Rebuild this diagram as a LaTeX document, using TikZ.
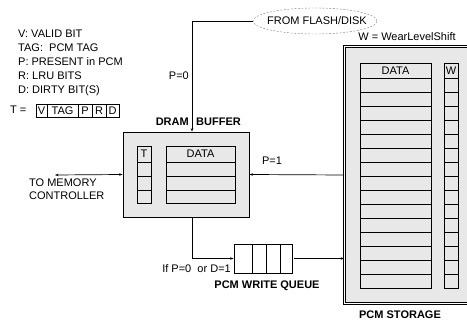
\documentclass[tikz,border=0pt]{standalone}
\usepackage{fontspec}
\setmainfont{Liberation Sans}
\usetikzlibrary{arrows.meta,shapes.geometric}
\tikzset{
  lbl/.style={font=\fontsize{11}{13}\selectfont, inner sep=0pt},
  bold lbl/.style={font=\fontsize{11}{13}\selectfont\bfseries, inner sep=0pt},
  blk/.style={draw, line width=0.8pt, fill=gray!18, inner sep=0pt},
  tip/.style={-{Stealth[length=3.5pt,width=2.5pt]}, line width=0.7pt},
}
\begin{document}
\begin{tikzpicture}[x=1pt,y=-1pt]
            \useasboundingbox (0,0) rectangle (467,323);
            \clip (0,0) rectangle (467,323);
            % legend
            \foreach \t [count=\i] in {V: VALID BIT, TAG:\ \ PCM TAG, P: PRESENT in PCM, R: LRU BITS, D: DIRTY BIT(S)}
              \node[lbl, anchor=base west] (leg\i) at (18,24+14*\i) {\t};
            \node[lbl, anchor=base west] (teq) at (10,114) {T =};
            \foreach \a/\b/\t in {36/47/V, 47/78/TAG, 78/92/P, 92/106/R, 106/119/D}
              {\draw[line width=0.8pt] (\a,104) rectangle (\b,117);
               \node[lbl] at ({(\a+\b)/2},110.5) {\t};}
            % main blocks
            \node[blk, minimum width=126pt, minimum height=85pt] (dram) at (186,174.5) {};
            \node[blk, minimum width=58pt, minimum height=29pt, fill=white] (queue) at (263,258.5) {};
            \node[blk, minimum width=130pt, minimum height=257pt, line width=0.7pt,
                  double, double distance=1.6pt] (pcm) at (409.5,175) {};
            \node[ellipse, draw=gray, dashed, dash pattern=on 2pt off 1.5pt,
                  minimum width=124pt, minimum height=26pt, inner sep=0pt] (flash) at (315,21) {};
            \node[lbl] (flashtxt) at (317,21) {FROM FLASH/DISK};
            % dram tables
            \draw[line width=0.8pt] (137,146) rectangle (151,203);
            \draw[line width=0.8pt] (166,146) rectangle (235,203);
            \foreach \y in {162,176,190}
              \draw[line width=0.8pt] (137,\y) -- (151,\y) (166,\y) -- (235,\y);
            \node[lbl] at (144,154) {T};
            \node[lbl] at (200.5,154) {DATA};
            % queue slots
            \foreach \x in {252,266,280}
              \draw[line width=0.8pt] (\x,244) -- (\x,273);
            % pcm tables
            \draw[line width=0.8pt] (360,63) rectangle (431,288);
            \draw[line width=0.8pt] (444,63) rectangle (458,288);
            \foreach \y in {78,92,...,274}
              \draw[line width=0.8pt] (360,\y) -- (431,\y) (444,\y) -- (458,\y);
            \node[lbl] at (395.5,71) {DATA};
            \node[lbl] at (451,71) {W};
            % connectors
            \coordinate (drop) at (192,21);
            \coordinate (mc) at (55,175);
            \draw[tip] (flash.west) -- (drop) -- (drop |- dram.north);
            \draw[tip] (drop |- dram.south) |- (queue.west);
            \draw[tip] ([xshift=2pt]queue.east) -- (queue.east -| pcm.west);
            \draw[tip] (pcm.west) -- (dram.east);
            \draw[{Stealth[length=3.5pt,width=2.5pt]}-{Stealth[length=3.5pt,width=2.5pt]}, line width=0.7pt] (mc) -- (dram.west);
            % labels
            \node[lbl, anchor=east] (p0) at (189,76) {P=0};
            \node[bold lbl, anchor=east] (dramtxt) at (189,122) {DRAM};
            \node[bold lbl, anchor=west] (buftxt) at (196,122) {BUFFER};
            \node[lbl] (p1) at (272,161) {P=1};
            \node[lbl, anchor=north west, align=left] (mctxt) at (29,179) {TO MEMORY\\CONTROLLER};
            \node[lbl, anchor=east] (cond) at (231,269) {If P=0\ \ or D=1};
            \node[bold lbl] (qtxt) at (267,286) {PCM WRITE QUEUE};
            \node[lbl] (wtxt) at (407,37) {W = WearLevelShift};
            \node[bold lbl] (pcmtxt) at (400,315) {PCM STORAGE};
        \end{tikzpicture}
\end{document}
